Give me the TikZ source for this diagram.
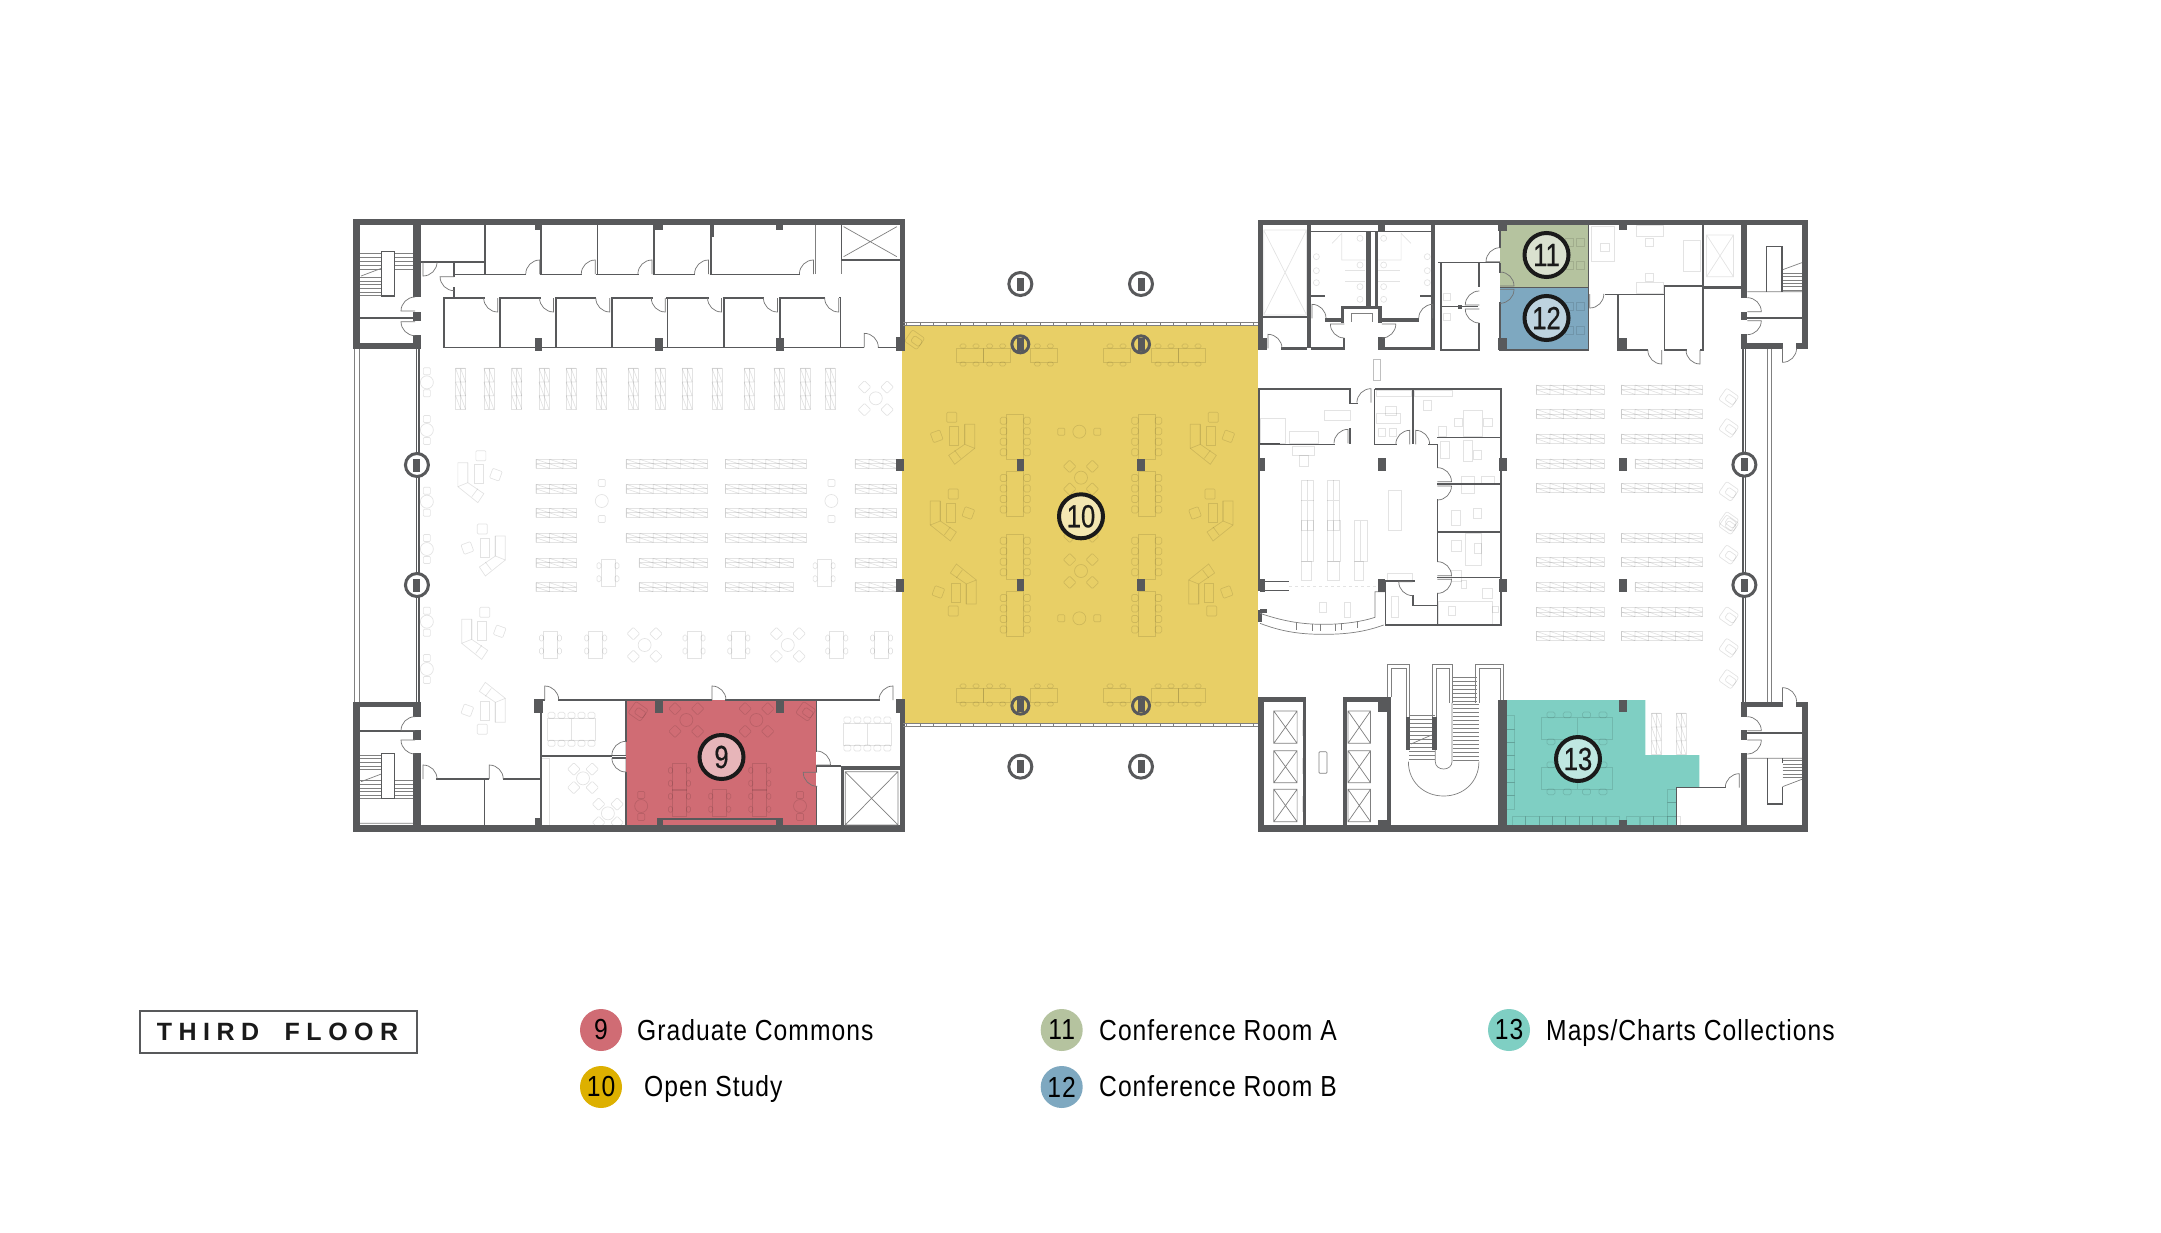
\documentclass[tikz,border=0pt]{standalone}
\usepackage{fontspec}
\usepackage{tikz}
\setmainfont{Liberation Sans}[FakeStretch=0.85,LetterSpace=3.5]
\newfontfamily\floorfont{Liberation Sans}[LetterSpace=26,Scale=1]
\newfontfamily\numfont{Liberation Sans}[FakeStretch=0.8,FakeBold=0.5]
\usetikzlibrary{calc,positioning}

\definecolor{walldark}{HTML}{58595B}
\definecolor{inkdark}{HTML}{1A1A1A}
\definecolor{roomred}{HTML}{D06C74}
\definecolor{roomyellow}{HTML}{E8CF66}
\definecolor{roomgreen}{HTML}{B5C39F}
\definecolor{roomblue}{HTML}{7EA8C0}
\definecolor{roomteal}{HTML}{7FCFC3}
\definecolor{keyyellow}{HTML}{DDB000}

\tikzset{
  wallfill/.style={fill=walldark},
  partition/.style={draw=walldark,line width=1.6pt,line cap=butt},
  doorline/.style={draw=black!55,line width=0.7pt},
  thinline/.style={draw=black!50,line width=0.7pt},
  furn/.style={draw=black,draw opacity=.11,line width=0.7pt},
  ringline/.style={draw=walldark,line width=3pt},
  roomdot/.style={circle,draw=inkdark,line width=4pt,minimum size=44pt,inner sep=0pt,font=\numfont\fontsize{32}{33}\selectfont,text=inkdark},
  keydot/.style={circle,minimum size=42pt,inner sep=0pt,font=\fontsize{29}{30}\selectfont,text=black},
  keytext/.style={anchor=base west,inner sep=0pt,font=\fontsize{29}{30}\selectfont,text=black},
  % each frame is a crop of the sheet, with its own units
  frameNW/.style={shift={(340,200)},x=0.38270pt,y=-0.33333pt},
  frameSW/.style={shift={(340,520)},x=0.38270pt,y=-0.33333pt},
  frameMid/.style={shift={(900,250)},x=0.33333pt,y=-0.33333pt},
  frameNE/.style={shift={(1260,210)},x=0.36364pt,y=-0.33333pt},
  frameSE/.style={shift={(1260,520)},x=0.36364pt,y=-0.33333pt},
}

\newcommand{\wallrects}[1]{\foreach \xa/\ya/\xb/\yb in {#1} \fill[wallfill] (\xa,\ya) rectangle (\xb,\yb);}
\newcommand{\furnrects}[1]{\foreach \xa/\ya/\xb/\yb in {#1} \draw[furn] (\xa,\ya) rectangle (\xb,\yb);}
\newcommand{\xbox}[4]{\draw[#1] #2 rectangle #3 #2 -- #3 #4;}
\newcommand{\swing}[4]{\draw[doorline,shift={(#1,#2)},x=1pt,y=-1pt,rotate=#3,xscale=#4] (0,0) -- (0,-14) .. controls (-7.7,-14) and (-14,-7.7) .. (-14,0);}
\newcommand{\ringcol}[4]{
  \draw[ringline,fill=#4] (#1,#2) circle [radius=#3pt];
  \fill[wallfill,shift={(#1,#2)},x=1pt,y=-1pt] (-3.5,-6.5) rectangle (3.5,6.5);
}
\newcommand{\stackh}[5]{
  \draw[furn] (#1,#2) rectangle (#3,#4) (#1,{(#2+#4)/2}) -- (#3,{(#2+#4)/2});
  \foreach \i in {1,...,#5}{
    \pgfmathsetmacro{\sxa}{#1+(\i-1)*(#3-#1)/#5}
    \pgfmathsetmacro{\sxb}{#1+\i*(#3-#1)/#5}
    \draw[furn] (\sxa,#2) -- (\sxa,#4) (\sxa,#2) -- (\sxb,{(#2+#4)/2}) (\sxa,{(#2+#4)/2}) -- (\sxb,#4);
  }
}
\newcommand{\stackv}[4]{
  \draw[furn] (#1,#2) rectangle (#3,#4) ({(#1+#3)/2},#2) -- ({(#1+#3)/2},#4);
  \foreach \i in {1,2,3}{
    \pgfmathsetmacro{\sya}{#2+(\i-1)*(#4-#2)/3}
    \pgfmathsetmacro{\syb}{#2+\i*(#4-#2)/3}
    \draw[furn] (#1,\sya) -- (#3,\sya) (#1,\sya) -- ({(#1+#3)/2},\syb) ({(#1+#3)/2},\sya) -- (#3,\syb);
  }
}
\newcommand{\sidetable}[4]{
  \begin{scope}[shift={(#1,#2)},x=1pt,y=-1pt,rotate=#3]
    \draw[furn] (0,0) circle [radius=6.5pt];
    \draw[furn,rounded corners=1pt] (-3.5,-#4-3.5) rectangle (3.5,-#4+3.5) (-3.5,#4-3.5) rectangle (3.5,#4+3.5);
  \end{scope}
}
\newcommand{\desk}[3]{
  \begin{scope}[shift={(#1,#2)},x=1pt,y=-1pt,rotate=#3]
    \draw[furn] (-7,-13.5) rectangle (7,13.5);
    \foreach \sy in {-7,6}{
      \draw[furn,rounded corners=1.5pt] (-11,\sy-3) rectangle (-7,\sy+3) (7,\sy-3) rectangle (11,\sy+3);
    }
  \end{scope}
}
\newcommand{\longtable}[2]{
  \begin{scope}[shift={(#1,#2)},x=1pt,y=-1pt]
    \draw[furn] (-8.5,-22.5) rectangle (8.5,22.5);
    \foreach \sy in {-16,-5.5,5,15.5}{
      \draw[furn,rounded corners=1.5pt] (-15,\sy-3.5) rectangle (-8.5,\sy+3.5) (8.5,\sy-3.5) rectangle (15,\sy+3.5);
    }
  \end{scope}
}
\newcommand{\conftable}[2]{
  \begin{scope}[shift={(#1,#2)},x=1pt,y=-1pt]
    \draw[furn] (-24,-11) rectangle (24,11) (0,-11) -- (0,11);
    \foreach \sx in {-20,-10,0,10,20}{
      \draw[furn,rounded corners=1.5pt] (\sx-3.5,-17) rectangle (\sx+3.5,-11) (\sx-3.5,11) rectangle (\sx+3.5,17);
    }
  \end{scope}
}
\newcommand{\club}[3]{
  \begin{scope}[shift={(#1,#2)},x=1pt,y=-1pt]
    \draw[furn] (0,0) circle [radius=6.5pt];
    \foreach \ang in {45,135,225,315}{
      \draw[furn,rotate=\ang,rounded corners=1pt] (#3-4.5,-4.5) rectangle (#3+4.5,4.5);
    }
  \end{scope}
}
\newcommand{\armchair}[2]{
  \begin{scope}[shift={(#1,#2)},x=1pt,y=-1pt,rotate=-35]
    \draw[furn,rounded corners=2pt] (-8,-7) -- (7,-7) -- (7,7) -- (-8,7) -- cycle;
    \draw[furn,rounded corners=1.5pt] (-3,-3.5) rectangle (7,3.5);
  \end{scope}
}
\newcommand{\lounge}[4]{
  \begin{scope}[shift={(#1,#2)},x=1pt,y=-1pt,rotate=#3,xscale=#4]
    \draw[furn] (8,-14) -- (18,-14) -- (18,10) -- (-2,26) -- (-8,17) -- (8,6) -- cycle;
    \draw[furn] (8,-14) -- (8,6) (8,6) -- (18,10) (-2,12) -- (4,20);
    \draw[furn] (-7,-12) rectangle (2,7);
    \draw[furn,rounded corners=1pt] (-10,-26) rectangle (0,-16);
    \draw[furn,rotate around={20:(-20,-2)},rounded corners=1pt] (-25,-7) rectangle (-15,3);
  \end{scope}
}

\begin{document}
\begin{tikzpicture}[x=1pt,y=-1pt]
  \useasboundingbox (0,0) rectangle (2161,1232);
  \fill[white] (0,0) rectangle (2161,1232);

  % Colour the rooms
  \begin{scope}[frameSW]
    \fill[roomred] (747,540) rectangle (1245,915);
  \end{scope}
  \begin{scope}[frameMid]
    \fill[roomyellow] (6,226) rectangle (1075,1420);
  \end{scope}
  \begin{scope}[frameNE]
    \fill[roomgreen] (660,46) rectangle (903,232);
    \fill[roomblue] (660,232) rectangle (903,420);
  \end{scope}
  \begin{scope}[frameSE]
    \fill[roomteal] (678,540) -- (1060,540) -- (1060,705) -- (1208,705) -- (1208,803) -- (1145,803) -- (1145,915) -- (678,915) -- cycle;
  \end{scope}

  % West wing, north half
  \begin{scope}[frameNW]
    \foreach \xa in {302,376,449,520,591,670,753,823,894,972,1056,1134,1203,1268}{
      \stackv{\xa}{505}{\xa+26}{628}
    }
    \foreach \ya in {778,853,925}{
      \stackh{512}{\ya}{618}{\ya+27}{3}
      \stackh{748}{\ya}{960}{\ya+27}{6}
      \stackh{1007}{\ya}{1218}{\ya+27}{6}
      \stackh{1346}{\ya}{1455}{\ya+27}{3}
    }
    \sidetable{227}{547}{0}{11}
    \sidetable{227}{690}{0}{11}
    \sidetable{227}{905}{0}{11}
    \sidetable{684}{903}{0}{18}
    \sidetable{1284}{903}{0}{18}
    \club{1400}{595}{16}
    \lounge{355}{830}{0}{-1}

    \foreach \yb in {160,172,184,196,208}
      \draw[thinline] (52,\yb) -- (108,\yb) (142,\yb) -- (190,\yb);
    \foreach \yb in {232,243,254,265,276,287}
      \draw[thinline] (52,\yb) -- (108,\yb);
    \draw[thinline] (55,228) -- (108,205);
    \draw[partition] (108,155) rectangle (142,288);

    \wallrects{35/58/1476/76, 35/58/52/447, 192/76/212/292, 192/335/212/362, 192/405/212/447,
      35/430/212/447, 50/350/195/356, 1462/76/1476/450, 510/76/528/90, 822/76/843/90,
      1139/76/1158/90, 968/76/976/110, 510/414/529/452, 823/414/844/452, 1138/414/1159/452,
      1452/412/1476/452, 1454/776/1473/813, 1310/178/1462/184}
    \draw[partition] (298,223) -- (487,223) (522,223) -- (633,223) (670,223) -- (780,223)
      (817,223) -- (928,223) (966,223) -- (1202,223);
    \foreach \xa in {379,525,673,820,970}
      \draw[partition] (\xa,76) -- (\xa,223);
    \draw[thinline] (1243,76) -- (1243,222) (1310,184) -- (1310,222);
    \draw[partition] (1310,76) -- (1310,178);
    \draw[partition] (212,186) -- (379,186) (298,186) -- (298,230) (298,262) -- (298,292);
    \draw[thinline] (1316,80) -- (1455,170) (1455,80) -- (1316,170);
    \draw[partition] (378,294) -- (272,294) -- (272,442) -- (1370,442) (1405,442) -- (1452,442);
    \draw[partition] (415,294) -- (525,294) (562,294) -- (670,294) (708,294) -- (817,294)
      (853,294) -- (963,294) (1000,294) -- (1108,294) (1147,294) -- (1268,294) (1305,292) -- (1310,292);
    \foreach \xa in {418,564,711,856,1003,1149,1308}
      \draw[partition] (\xa,294) -- (\xa,442);

    \foreach \xa in {522,667,815,963,1237}{
      \swing{\xa}{222}{0}{1}
    }
    \foreach \xa in {412,558,705,850,997,1143,1303}{
      \swing{\xa}{294}{180}{-1}
    }
    \swing{217}{186}{180}{1}
    \swing{298}{230}{90}{1}
    \swing{196}{333}{90}{-1}
    \swing{196}{365}{90}{1}
    \swing{1370}{442}{0}{-1}

    \draw[thinline] (38,447) -- (38,960) (50,447) -- (50,960);
    \draw[partition] (200,447) -- (200,960) (206,447) -- (206,960);
    \ringcol{201}{795}{11.5}{white}
  \end{scope}

  % West wing, south half
  \begin{scope}[frameSW]
    \foreach \ya in {40}{
      \stackh{512}{\ya}{618}{\ya+27}{3}
      \stackh{748}{\ya}{960}{\ya+27}{6}
      \stackh{1007}{\ya}{1218}{\ya+27}{6}
      \stackh{1346}{\ya}{1455}{\ya+27}{3}
    }
    \foreach \ya in {115,188}{
      \stackh{512}{\ya}{618}{\ya+27}{3}
      \stackh{782}{\ya}{960}{\ya+27}{5}
      \stackh{1007}{\ya}{1184}{\ya+27}{5}
      \stackh{1346}{\ya}{1455}{\ya+27}{3}
    }
    \foreach \ya in {87,305,447}{
      \sidetable{227}{\ya}{0}{11}
    }
    \desk{700}{158}{0}
    \desk{1265}{158}{0}
    \foreach \xa in {550,668,925,1042,1298,1415}{
      \desk{\xa}{375}{0}
    }
    \club{796}{375}{16}
    \club{1170}{375}{16}
    \lounge{385}{90}{0}{1}
    \lounge{365}{340}{0}{-1}
    \lounge{385}{565}{180}{-1}
    \conftable{605}{628}
    \conftable{1378}{642}
    \club{635}{775}{13}
    \club{700}{880}{13}
    \draw[furn] (527,715) rectangle (548,915);

    % furniture in the commons
    \club{905}{600}{16}
    \club{1088}{600}{16}
    \foreach \xa/\ya in {887/772,887/850,992/850,1097/772,1097/850}{
      \desk{\xa}{\ya}{0}
    }
    \sidetable{787}{858}{0}{11}
    \sidetable{1202}{858}{0}{11}
    \armchair{780}{575}
    \armchair{1218}{575}

    \foreach \yb in {705,716,727,738,749}
      \draw[thinline] (52,\yb) -- (108,\yb);
    \foreach \yb in {782,793,804,815,826,836}
      \draw[thinline] (52,\yb) -- (108,\yb) (142,\yb) -- (190,\yb);
    \draw[thinline] (55,785) -- (108,762) (52,910) -- (192,910);
    \draw[partition] (108,700) rectangle (142,835);

    \wallrects{35/545/52/935, 35/545/212/562, 192/562/212/590, 192/630/212/660, 192/700/212/935,
      50/630/195/637, 35/915/1476/935, 1462/540/1476/935, 1452/538/1476/578, 507/537/530/580,
      823/540/845/578, 1139/540/1159/578, 510/895/528/915, 827/893/1158/900, 827/893/845/915,
      1140/893/1158/915, 1308/738/1462/750, 1308/738/1318/915, 1454/178/1473/215}
    \draw[partition] (525,540) -- (535,540) (570,540) -- (972,540) (1006,540) -- (1410,540)
      (525,540) -- (525,915) (525,708) -- (712,708) (712,714) -- (747,714) (712,706) -- (747,706);
    \draw[partition] (747,540) -- (747,665) (747,755) -- (747,915)
      (1245,540) -- (1245,695) (1245,738) -- (1245,757) (1245,797) -- (1245,915) (1245,738) -- (1310,738);
    \draw[partition] (252,777) -- (390,777) (425,777) -- (525,777) (378,777) -- (378,915);
    \draw[thinline] (1320,755) -- (1458,915) (1458,755) -- (1320,915) (1320,755) rectangle (1458,915);

    \foreach \xa in {535,972}{
      \swing{\xa}{540}{0}{-1}
    }
    \swing{1445}{540}{0}{1}
    \swing{747}{706}{0}{1}
    \swing{747}{714}{180}{-1}
    \swing{217}{777}{0}{-1}
    \swing{390}{777}{0}{-1}
    \swing{1245}{735}{-90}{1}
    \swing{1247}{757}{90}{1}
    \swing{196}{632}{90}{-1}
    \swing{196}{660}{90}{1}

    \draw[thinline] (38,0) -- (38,545) (50,0) -- (50,545);
    \draw[partition] (200,0) -- (200,545) (206,0) -- (206,545);
    \ringcol{201}{195}{11.5}{white}
  \end{scope}

  % Open study between the wings
  \begin{scope}[frameMid]
    \foreach \ya in {315,1335}{
      \foreach \xa in {210,290,433,651,795,876}{
        \desk{\xa}{\ya}{90}
      }
    }
    \foreach \xa in {346,740}{
      \foreach \ya in {560,732,920,1092}{
        \longtable{\xa}{\ya}
      }
    }
    \sidetable{538}{545}{90}{18}
    \sidetable{538}{1105}{90}{18}
    \club{543}{683}{16}
    \club{543}{825}{16}
    \club{543}{963}{16}
    \lounge{170}{565}{0}{1}
    \lounge{925}{565}{0}{-1}
    \lounge{145}{795}{0}{-1}
    \lounge{945}{795}{0}{1}
    \lounge{175}{1020}{180}{-1}
    \lounge{920}{1020}{180}{1}
    \armchair{45}{270}

    \draw[thinline] (10,218) -- (1075,218) (10,226) -- (1075,226) (10,1420) -- (1075,1420) (10,1428) -- (1075,1428);
    \foreach \xa in {20,60,...,1060}
      \draw[thinline] (\xa,218) -- (\xa,226) (\xa,1420) -- (\xa,1428);
    \ringcol{361}{102}{11.5}{white}
    \ringcol{723}{102}{11.5}{white}
    \ringcol{361}{1550}{11.5}{white}
    \ringcol{723}{1550}{11.5}{white}
    \ringcol{361}{283}{8.5}{none}
    \ringcol{723}{283}{8.5}{none}
    \ringcol{361}{1367}{8.5}{none}
    \ringcol{723}{1367}{8.5}{none}
    \wallrects{350/627/372/663, 712/627/734/663, 350/988/372/1024, 712/988/734/1024,
      0/627/11/663, 0/988/11/1024, 1075/627/1095/663, 1075/988/1095/1024, 1075/1080/1085/1115}
    \draw[partition] (1077,415) -- (1077,1000) (1077,415) -- (1140,415) (1077,580) -- (1140,580);
  \end{scope}

  % East wing, north half
  \begin{scope}[frameNE]
    \foreach \ya in {525,598,672,747,820}{
      \stackh{760}{\ya}{946}{\ya+28}{5}
    }
    \foreach \ya in {525,598,672,820}{
      \stackh{994}{\ya}{1217}{\ya+28}{6}
    }
    \stackh{1032}{747}{1217}{775}{5}
    \foreach \ya in {565,655,845,935}{
      \armchair{1290}{\ya}
    }

    % rooms with desks and chairs
    \furnrects{178/600/248/630, 80/665/160/700, 0/625/70/700, 90/708/150/735, 108/735/132/770,
      320/540/415/560, 320/610/385/640, 325/655/345/680, 355/655/375/680, 345/590/375/615,
      425/540/530/560, 560/600/612/680, 490/650/512/680, 535/625/557/650, 615/625/640/650, 450/570/472/600,
      495/695/520/745, 560/690/585/755, 587/722/610/748, 610/800/645/822, 555/800/590/850, 525/900/550/945,
      587/895/610/925, 1035/46/1110/80, 1060/85/1082/108, 1165/90/1212/185, 1060/190/1082/215, 1035/218/1110/250,
      910/50/975/155, 937/100/960/125, 352/840/390/960, 113/810/148/960, 185/810/218/960,
      840/85/862/108, 870/85/892/108, 840/155/862/178, 870/155/892/178, 840/278/862/300, 870/278/892/300,
      840/348/862/372, 870/348/892/372, 505/250/523/270, 505/310/523/332}
    \draw[furn] (130,810) -- (130,960) (202,810) -- (202,960) (113,870) -- (148,870) (185,870) -- (218,870);
    \draw[thinline,draw opacity=.5] (312,448) rectangle (332,512);
    \foreach \ya in {85,165,230,268}
      \draw[furn] (275,\ya) circle [radius=3pt] (340,\ya) circle [radius=3pt];
    \foreach \ya in {140,182,218}
      \draw[furn] (155,\ya) circle [radius=3pt] (460,\ya) circle [radius=3pt];
    \draw[furn] (198,100) -- (225,70) -- (225,150) -- (290,150) (415,100) -- (388,70) -- (388,150) -- (325,150);
    \draw[furn] (235,180) -- (290,180) (235,215) -- (290,215) (325,180) -- (385,180) (325,215) -- (385,215);
    \draw[furn] (10,60) -- (128,315) (128,60) -- (10,315) (10,60) rectangle (128,315);
    \draw[furn] (1228,75) -- (1302,200) (1302,75) -- (1228,200) (1228,75) rectangle (1302,200);
    \foreach \yb in {190,200,210,220,230,240}
      \draw[thinline] (1435,\yb) -- (1490,\yb);
    \draw[thinline] (1435,180) -- (1490,158) (1340,245) -- (1490,245);
    \draw[partition] (1393,245) -- (1393,110) -- (1435,110) -- (1435,245);

    \wallrects{-5/30/1508/46, -5/30/9/420, 128/46/140/415, 0/317/130/325, 1322/46/1340/265,
      1322/305/1340/330, 1322/372/1340/418, 1490/46/1508/415, 1325/400/1437/416, 1473/400/1508/416,
      1340/320/1490/326, 655/46/678/62, 988/46/1008/60, 325/46/345/62, 655/385/678/420, 985/385/1008/420,
      0/385/20/420, 58/410/130/420, 140/410/232/420, 228/385/235/420, 325/380/345/420, 345/410/480/420,
      292/62/304/290, 315/62/325/290, 470/46/480/420, 222/287/335/296, 222/287/232/340, 325/287/335/340,
      180/325/222/335, 335/325/438/335, 140/255/178/260, 440/255/478/260, 1218/228/1325/236,
      545/286/555/298, 988/745/1010/783, 656/745/678/783, 325/745/347/783, 0/745/14/783}
    \draw[partition] (140,64) -- (480,64);
    \draw[partition] (490,158) -- (660,158) (498,158) -- (498,420) -- (602,420) -- (602,340)
      (602,230) -- (602,160) (498,290) -- (545,290) (555,290) -- (600,290);
    \draw[partition] (660,46) -- (660,115) (660,158) -- (660,190) (660,275) -- (660,420) -- (905,420)
      (660,232) -- (903,232) (903,46) -- (903,420);
    \draw[partition] (948,254) -- (1112,254) (985,254) -- (985,420) -- (1068,420)
      (1112,228) -- (1112,420) -- (1175,420) (1210,420) -- (1222,420) (1112,228) -- (1218,228) (1218,46) -- (1218,420);
    \draw[thinline] (250,310) -- (310,310) -- (310,335) (250,310) -- (250,335);

    % offices in the middle of the wing
    \draw[partition] (0,537) -- (248,537) -- (248,580) -- (270,580) (248,655) -- (248,703) (0,703) -- (205,703);
    \draw[partition] (315,537) -- (663,537) -- (663,960) (315,537) -- (315,703) -- (378,703) (420,537) -- (420,703)
      (463,703) -- (488,703) -- (488,775) (488,683) -- (663,683) (488,822) -- (663,822) (488,868) -- (488,960);

    \swing{660}{155}{90}{-1}
    \swing{660}{228}{-90}{1}
    \swing{660}{238}{-90}{-1}
    \swing{603}{285}{90}{-1}
    \swing{603}{297}{90}{1}
    \swing{907}{252}{180}{1}
    \swing{1105}{420}{180}{-1}
    \swing{1210}{420}{180}{-1}
    \swing{1437}{415}{180}{1}
    \swing{1340}{305}{-90}{1}
    \swing{1340}{332}{-90}{-1}
    \swing{143}{325}{0}{-1}
    \swing{475}{325}{0}{1}
    \swing{232}{342}{90}{1}
    \swing{335}{342}{-90}{-1}
    \swing{22}{415}{0}{-1}
    \swing{305}{578}{0}{1}
    \swing{242}{700}{0}{1}
    \swing{412}{703}{0}{1}
    \swing{428}{703}{0}{-1}
    \swing{488}{815}{-90}{1}
    \swing{488}{828}{-90}{-1}

    \draw[partition] (1328,418) -- (1328,960) (1335,418) -- (1335,960);
    \draw[thinline] (1395,418) -- (1395,960) (1407,418) -- (1407,960);
    \ringcol{1332}{764}{11.5}{white}
  \end{scope}

  % East wing, south half
  \begin{scope}[frameSE]
    \foreach \ya in {40,112,187,262,334}{
      \stackh{760}{\ya}{946}{\ya+28}{5}
    }
    \foreach \ya in {40,112,262,334}{
      \stackh{994}{\ya}{1217}{\ya+28}{6}
    }
    \stackh{1032}{187}{1217}{215}{5}
    \foreach \ya in {15,105,290,385,478}{
      \armchair{1290}{\ya}
    }
    \stackv{1077}{580}{1103}{703}
    \stackv{1145}{580}{1171}{703}

    % tables and shelves in the collection room
    \foreach \ya in {625,775}{
      \draw[furn] (775,\ya-32) rectangle (970,\ya+32) (872,\ya-32) -- (872,\ya+32);
      \foreach \xa in {800,845,898,943}{
        \draw[furn,rounded corners=1.5pt] (\xa-11,\ya-49) rectangle (\xa+11,\ya-32) (\xa-11,\ya+32) rectangle (\xa+11,\ya+49);
      }
    }
    \foreach \yb in {587,627,667,707,747,787,827}
      \draw[furn] (678,\yb) rectangle (700,\yb+40);
    \foreach \xa in {693,731,769,805,841,879,915,952,1008,1045,1083,1120}
      \draw[furn] (\xa,888) rectangle (\xa+36,915);
    \foreach \yb in {808,848}
      \draw[furn] (1120,\yb) rectangle (1145,\yb+40);

    \furnrects{525/60/555/95, 565/40/610/135, 590/70/610/100, 525/150/555/185, 612/205/640/235,
      555/180/568/205, 640/260/655/278, 518/258/538/285, 490/245/640/315, 350/160/420/185, 115/125/142/180, 185/125/218/180, 260/125/285/180}
    \foreach \xa in {113,185,260}
      \draw[furn] (\xa,0) rectangle (\xa+35,125) (\xa+17,0) -- (\xa+17,125);
    \furnrects{162/248/182/278, 232/248/248/292, 360/228/380/292}
    \draw[furn,dashed] (80,198) -- (325,198);

    % curved desk
    \draw[thinline] (0,310) .. controls (60,335) and (110,343) .. (175,343) .. controls (240,343) and (290,335) .. (340,315);
    \draw[thinline] (0,280) .. controls (60,302) and (110,313) .. (175,313) .. controls (230,313) and (280,305) .. (316,292) -- (316,215) -- (345,215);
    \foreach \xa/\ya in {100/310,145/313,165/313,208/313,225/310,268/303}
      \draw[thinline] (\xa,\ya) -- (\xa,\ya+20);
    \draw[partition] (15,185) -- (80,185) (15,212) -- (80,212);

    % lifts
    \foreach \xa/\xb in {38/102,242/304}{
      \foreach \ya/\yb in {573/670,692/788,808/905}{
        \xbox{thinline}{(\xa,\ya)}{(\xb,\yb)}{(\xb,\ya) -- (\xa,\yb)}
      }
    }
    \foreach \ya in {600,715,830}
      \draw[furn] (117,\ya) rectangle (125,\ya+45) (230,\ya) rectangle (238,\ya+45);
    \draw[thinline,rounded corners=1pt] (162,695) rectangle (184,760);

    % central stair
    \draw[thinline] (360,532) -- (360,445) -- (402,445) -- (402,592);
    \draw[thinline] (350,532) -- (350,433) -- (412,433) -- (412,592);
    \draw[thinline] (474,592) -- (474,433) -- (530,433) -- (530,548);
    \draw[thinline] (486,592) -- (486,445) -- (520,445) -- (520,548);
    \draw[thinline] (593,548) -- (593,433) -- (670,433) -- (670,540);
    \draw[thinline] (603,548) -- (603,445) -- (660,445) -- (660,540);
    \foreach \yb in {472,484,...,544}
      \draw[thinline] (528,\yb) -- (598,\yb);
    \foreach \yb in {552,564,...,720}
      \draw[thinline] (530,\yb) -- (602,\yb);
    \foreach \yb in {586,598,...,720}
      \draw[thinline] (410,\yb) -- (482,\yb);
    \draw[thinline] (415,672) -- (472,645);
    \draw[thinline] (408,725) .. controls (408,785) and (450,828) .. (505,828) .. controls (560,828) and (602,785) .. (602,725);
    \draw[thinline] (482,690) -- (482,725) .. controls (482,738) and (492,747) .. (505,747) .. controls (518,747) and (528,738) .. (528,725) -- (528,548);

    % stair at the corner
    \foreach \yb in {722,732,742,752,762,772}
      \draw[thinline] (1437,\yb) -- (1490,\yb);
    \draw[thinline] (1437,800) -- (1490,778) (1340,715) -- (1490,715);
    \draw[partition] (1395,715) -- (1395,852) -- (1437,852) -- (1437,800) (1437,715) -- (1437,730);

    \wallrects{-5/915/1508/935, -5/532/10/935, 0/532/127/547, 118/547/127/915, 228/532/360/547,
      228/547/238/915, 325/547/360/575, 350/547/360/915, 325/900/360/915, 655/540/678/935,
      988/540/1008/576, 988/900/1008/915, 988/178/1010/215, 657/178/678/215, 325/178/345/215, 0/178/15/215, 0/268/20/280,
      1322/545/1340/590, 1322/630/1340/660, 1322/700/1340/915, 1325/545/1437/560, 1473/545/1508/560,
      1490/545/1508/935, 1340/635/1490/642, 402/592/412/690, 474/592/486/690}
    \draw[partition] (1145,915) -- (1145,803) -- (1282,803);
    \draw[partition] (488,0) -- (488,125) (663,0) -- (663,315) -- (345,315) -- (345,180) (488,172) -- (663,172)
      (488,218) -- (488,315) (325,183) -- (425,183) (420,225) -- (420,257) -- (488,257) (488,36) -- (663,36);

    \swing{1318}{803}{0}{1}
    \swing{1437}{545}{0}{-1}
    \swing{1340}{632}{-90}{1}
    \swing{1340}{660}{-90}{-1}
    \swing{488}{167}{-90}{1}
    \swing{488}{178}{-90}{-1}
    \swing{420}{185}{90}{1}

    \draw[partition] (1328,0) -- (1328,545) (1335,0) -- (1335,545);
    \draw[thinline] (1395,0) -- (1395,545) (1407,0) -- (1407,545);
    \ringcol{1332}{195}{11.5}{white}
  \end{scope}

  % Numbers on the rooms
  \node[roomdot,fill=roomred!50!white] (room9) at (721.5,757) {9};
  \node[roomdot,fill=roomyellow!50!white] (room10) at (1081,516.3) {10};
  \node[roomdot,fill=roomgreen!50!white] (room11) at (1546.5,255) {11};
  \node[roomdot,fill=roomblue!50!white] (room12) at (1546.5,318) {12};
  \node[roomdot,fill=roomteal!50!white] (room13) at (1578,759) {13};

  % Title box and key
  \draw[draw=walldark,line width=2pt] (140,1010.5) rectangle (417,1052.5);
  \node[anchor=base west,inner sep=0pt,font=\floorfont\bfseries\fontsize{25}{26}\selectfont,text=inkdark] (floortitle) at (156.7,1040) {THIRD\hspace{12pt} FLOOR};

  \node[keydot,fill=roomred] (key9) at (601,1030) {9};
  \node[keydot,fill=keyyellow] (key10) at (601,1087) {10};
  \node[keydot,fill=roomgreen] (key11) at (1061.7,1030) {11};
  \node[keydot,fill=roomblue] (key12) at (1061.7,1087) {12};
  \node[keydot,fill=roomteal] (key13) at (1509,1030) {13};
  \node[keytext] (name9) at (637,1040) {Graduate Commons};
  \node[keytext] (name10) at (644,1096) {Open Study};
  \node[keytext] (name11) at (1099,1040) {Conference Room A};
  \node[keytext] (name12) at (1099,1096) {Conference Room B};
  \node[keytext] (name13) at (1546,1040) {Maps/Charts Collections};
\end{tikzpicture}
\end{document}
